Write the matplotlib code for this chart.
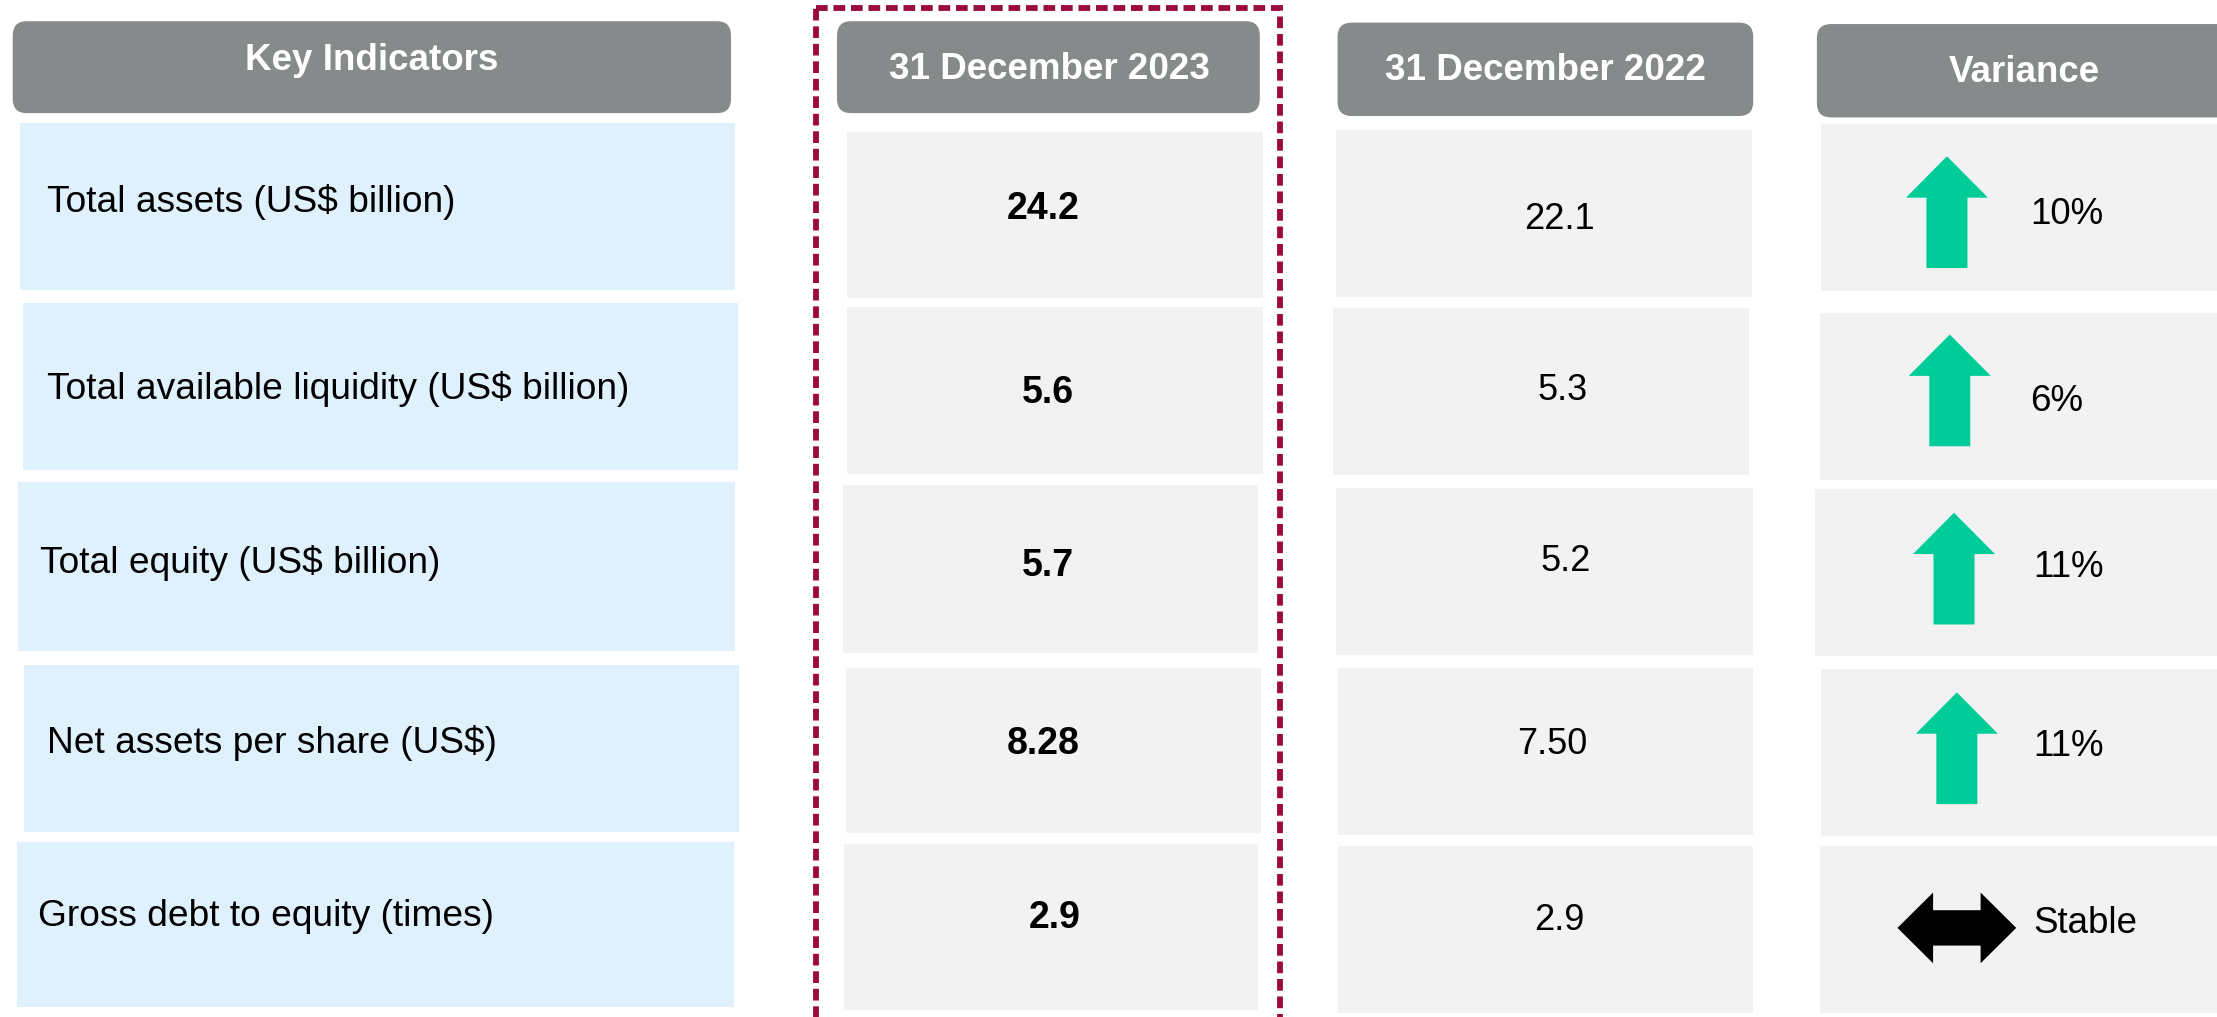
"""
Key indicators table: 31 December 2023 vs 31 December 2022
"""

import matplotlib.pyplot as plt
from matplotlib.patches import FancyBboxPatch, Rectangle, Polygon

plt.rcParams["font.family"] = ["Liberation Sans", "DejaVu Sans"]

# %%
# Data

headers = ["Key Indicators", "31 December 2023", "31 December 2022", "Variance"]
indicators = [
    "Total assets (US$ billion)",
    "Total available liquidity (US$ billion)",
    "Total equity (US$ billion)",
    "Net assets per share (US$)",
    "Gross debt to equity (times)",
]
values_2023 = ["24.2", "5.6", "5.7", "8.28", "2.9"]
values_2022 = ["22.1", "5.3", "5.2", "7.50", "2.9"]
variance = ["10%", "6%", "11%", "11%", "Stable"]
trend = ["up", "up", "up", "up", "flat"]

# %%
# Layout (canvas units, y grows downward)

W, H = 1568, 719
header_boxes = [(9, 15, 517, 80), (592, 15, 891, 80), (946, 16, 1240, 82), (1285, 17, 1600, 83)]
header_text_xy = [(263, 43), (742, 49), (1093, 50), (1432, 51)]
cells = [
    [(14, 87, 520, 205), (16, 214, 522, 332), (13, 341, 520, 460), (17, 470, 523, 588), (12, 595, 519, 712)],
    [(599, 93, 893, 211), (599, 217, 893, 335), (596, 343, 890, 462), (598, 472, 892, 589), (597, 597, 890, 714)],
    [(945, 92, 1239, 210), (943, 218, 1237, 336), (945, 345, 1240, 463), (946, 472, 1240, 590), (946, 598, 1240, 716)],
    [(1288, 88, 1600, 206), (1287, 221, 1600, 339), (1284, 346, 1600, 464), (1288, 473, 1600, 591), (1287, 598, 1600, 716)],
]
label_x = [33, 33, 28, 33, 27]
label_y = [143, 275, 398, 525, 648]
v23_x = [738, 741, 741, 738, 746]
v23_y = [148, 278, 400, 526, 649]
v22_x = [1103, 1105, 1107, 1098, 1103]
v22_y = [155, 276, 397, 526, 651]
arrow_x = [1377, 1379, 1382, 1384, 1384]
arrow_y = [150, 276, 402, 529, 656]
var_x = [1436, 1436, 1438, 1438, 1438]
var_y = [152, 284, 401, 528, 653]

header_grey = "#878a8a"
label_blue = "#dff1fd"
cell_grey = "#f2f2f2"
up_green = "#00cc99"
crimson = "#9b0a3c"

fig = plt.figure(figsize=(22.17, 10.17), dpi=100)
ax = fig.add_axes([0, 0, 1, 1])
ax.set_xlim(0, W)
ax.set_ylim(H, 0)
ax.axis("off")


def rect(box, color, **kw):
    x0, y0, x1, y1 = box
    ax.add_patch(Rectangle((x0, y0), x1 - x0, y1 - y0, facecolor=color, edgecolor="none", **kw))


# headers
for box, (tx, ty), text in zip(header_boxes, header_text_xy, headers):
    x0, y0, x1, y1 = box
    ax.add_patch(
        FancyBboxPatch(
            (x0, y0), x1 - x0, y1 - y0,
            boxstyle="round,pad=0,rounding_size=10",
            facecolor=header_grey, edgecolor="none",
        )
    )
    ax.text(tx, ty, text, ha="center", va="center",
            color="white", fontsize=26.5, fontweight="bold")

# cell backgrounds
for c, col in enumerate(cells):
    for box in col:
        rect(box, label_blue if c == 0 else cell_grey)

# indicator labels and values
for i in range(len(indicators)):
    ax.text(label_x[i], label_y[i], indicators[i], ha="left", va="center", fontsize=26.7)
    ax.text(v23_x[i], v23_y[i], values_2023[i], ha="center", va="center",
            fontsize=27, fontweight="bold")
    ax.text(v22_x[i], v22_y[i], values_2022[i], ha="center", va="center", fontsize=26)


def up_arrow(cx, cy, w=58, h=79, color=up_green):
    top, bot = cy - h / 2, cy + h / 2
    neck = top + 0.37 * h
    sw = 0.25 * w
    pts = [(cx, top), (cx + w / 2, neck), (cx + sw, neck), (cx + sw, bot),
           (cx - sw, bot), (cx - sw, neck), (cx - w / 2, neck)]
    ax.add_patch(Polygon(pts, closed=True, facecolor=color, edgecolor="none"))


def double_arrow(cx, cy, w=84, h=50, color="black"):
    left, right = cx - w / 2, cx + w / 2
    hl = 0.30 * w
    sh = 0.25 * h
    pts = [(left, cy), (left + hl, cy - h / 2), (left + hl, cy - sh), (right - hl, cy - sh),
           (right - hl, cy - h / 2), (right, cy), (right - hl, cy + h / 2), (right - hl, cy + sh),
           (left + hl, cy + sh), (left + hl, cy + h / 2)]
    ax.add_patch(Polygon(pts, closed=True, facecolor=color, edgecolor="none"))


for i in range(len(variance)):
    if trend[i] == "up":
        up_arrow(arrow_x[i], arrow_y[i])
    else:
        double_arrow(arrow_x[i], arrow_y[i])
    ax.text(var_x[i], var_y[i], variance[i], ha="left", va="center", fontsize=26.5)

# dashed highlight around the current year column
ax.add_patch(
    Rectangle((577, 6), 905 - 577, 760, facecolor="none", edgecolor=crimson,
              linewidth=4.2, linestyle=(0, (2, 1)), clip_on=False)
)

fig.savefig("out.png", dpi=100)
